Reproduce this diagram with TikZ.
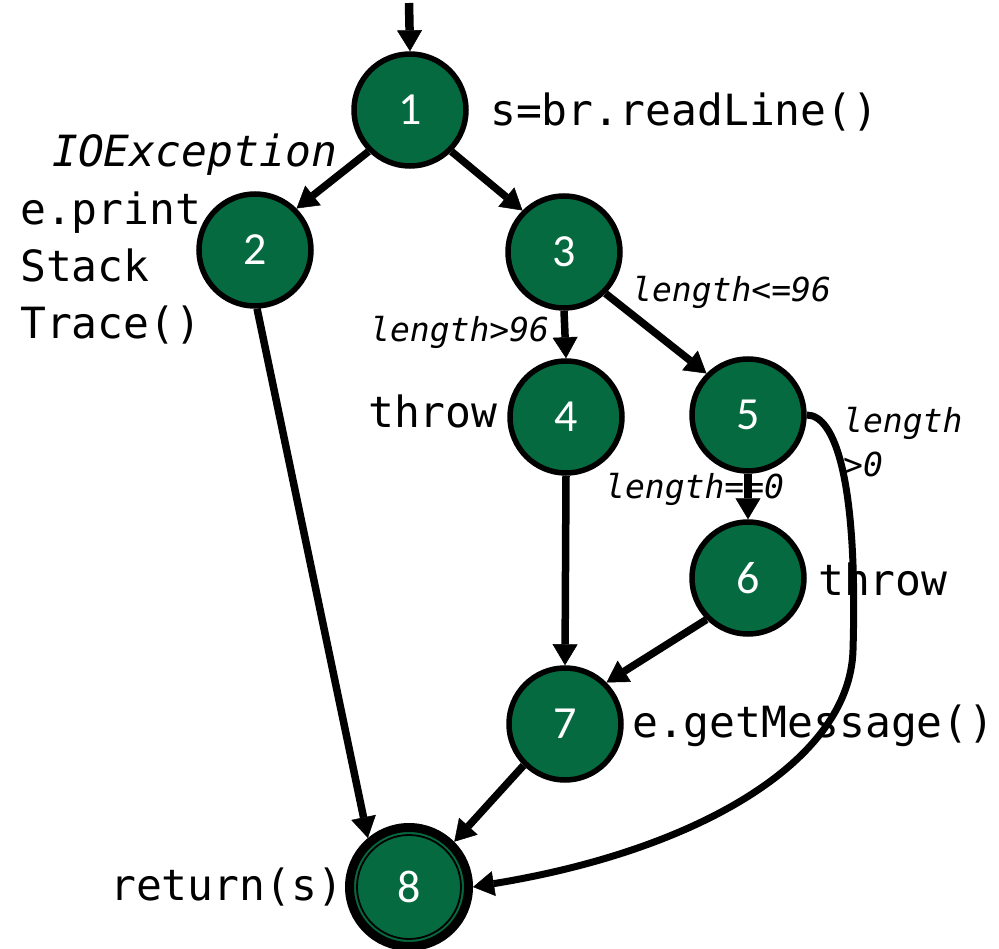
\documentclass[tikz,border=0pt]{standalone}
\usepackage{fontspec}
\setmonofont{DejaVu Sans Mono}
\newfontfamily\numfont{Carlito}
\usetikzlibrary{arrows.meta}
\definecolor{nodegreen}{RGB}{5,106,64}
\begin{document}
\begin{tikzpicture}[x=1pt,y=-1pt,
  state/.style={circle,draw=black,line width=5.5pt,fill=nodegreen,
    minimum size=112pt,inner sep=0pt,text=white,
    font=\numfont\fontsize{46}{46}\selectfont},
  flow/.style={line width=7.5pt,
    -{Triangle[width=25pt,length=21pt,line width=0.5pt]}},
  code/.style={font=\ttfamily\fontsize{43}{57}\selectfont,inner sep=0pt,anchor=base west},
  codeit/.style={font=\ttfamily\itshape\fontsize{43}{57}\selectfont,inner sep=0pt,anchor=base west},
  cond/.style={font=\ttfamily\itshape\fontsize{33}{44}\selectfont,inner sep=0pt,anchor=base west}]
\useasboundingbox (0,0) rectangle (999,949);

% states
\node[state] (n1) at (410,110) {1};
\node[state] (n2) at (255,250) {2};
\node[state] (n3) at (564,252) {3};
\node[state] (n4) at (566,417) {4};
\node[state] (n5) at (748,415) {5};
\node[state] (n6) at (748,578) {6};
\node[state] (n7) at (565,724) {7};
\node[state,line width=9pt,minimum size=119pt] (n8) at (409,887) {8};
\draw[line width=1.8pt] (n8.center) circle (52pt);

% statement and condition labels
\node[code] (t1) at (490,126) {s=br.readLine()};
\node[codeit] (tio) at (52,167) {IOException};
\node[code] (t2a) at (20,225) {e.print};
\node[code] (t2b) at (20,282) {Stack};
\node[code] (t2c) at (20,339) {Trace()};
\node[cond] (c34) at (370,342) {length>96};
\node[cond] (c35) at (632,302) {length<=96};
\node[code] (t4) at (368,428) {throw};
\node[cond] (c58a) at (843,433) {length};
\node[cond] (c58b) at (843,477) {>0};
\node[cond] (c56) at (605,498) {length==0};
\node[code] (t6) at (818,595) {throw};
\node[code] (t7) at (632,737) {e.getMessage()};
\node[code] (t8) at (110,900) {return(s)};

% control flow
\coordinate (entry) at (409,3);
\draw[flow,line width=8.5pt] (entry) -- (n1.north);
\draw[flow] (n1.225) -- (n2.45);
\draw[flow] (n1.-45) -- (n3.135);
\draw[flow] (n3.south) -- (n4.north);
\draw[flow] (n3.-45) -- (n5.135);
\draw[flow] (n4.south) -- (n7.north);
\draw[flow] (n5.south) -- (n6.north);
\draw[flow] (n6.225) -- (n7.45);
\draw[flow] (n7.225) -- (n8.45);
\draw[flow] (n2.-88) -- (n8.130);
\draw[flow,line width=7pt] (n5.east) .. controls (835,415) and (858,480) .. (853,650)
  .. controls (850,760) and (700,850) .. (n8.east);
\end{tikzpicture}
\end{document}
